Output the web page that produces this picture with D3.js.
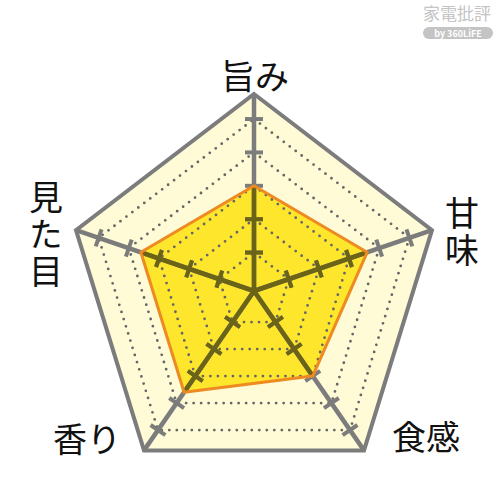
<!DOCTYPE html>
<meta charset="utf-8">
<style>
body { margin: 0; background: #fff; }
text { font-family: "Noto Sans CJK JP", "Noto Sans", sans-serif; }
</style>
<svg width="500" height="500"></svg>
<script src="https://cdn.jsdelivr.net/npm/d3@7"></script>
<script>

var axes = ["旨み", "甘味", "食感", "香り", "見た目"];
var values = [3, 3.6, 3, 3.6, 3.6];
var levels = [1, 2, 3, 4, 5];
var maxValue = 5.75;

var svg = d3.select("svg"),
    cx = 254, cy = 291, sx = 0.95;

var r = d3.scaleLinear().domain([0, maxValue]).range([5, 197]);
var angle = d3.scaleLinear().domain([0, axes.length]).range([0, 2 * Math.PI]);
var line = d3.line().curve(d3.curveLinearClosed);

function pt(i, v) {
  var a = angle(i);
  return [cx + sx * r(v) * Math.sin(a), cy - r(v) * Math.cos(a)];
}
function ring(v) {
  return line(axes.map(function(d, i) { return pt(i, v); }));
}
var dataPath = line(values.map(function(v, i) { return pt(i, v); }));

// clip for the olive part of the spokes
svg.append("clipPath").attr("id", "inside")
  .append("path").attr("d", dataPath);

// background frame
svg.append("path")
    .attr("d", ring(maxValue))
    .attr("fill", "#fefbd6");

svg.append("path")
    .attr("d", dataPath)
    .attr("fill", "#fde62c");

// dotted rings
svg.append("g").selectAll("path")
  .data(levels)
  .enter().append("path")
    .attr("d", ring)
    .attr("fill", "none")
    .attr("stroke", "#666")
    .attr("stroke-width", 2.8)
    .attr("stroke-linecap", "round")
    .attr("stroke-dasharray", "0,7.5");

function drawSpokes(g, color) {
  axes.forEach(function(d, i) {
    var end = pt(i, maxValue);
    g.append("line")
        .attr("x1", cx).attr("y1", cy)
        .attr("x2", end[0]).attr("y2", end[1])
        .attr("stroke", color)
        .attr("stroke-width", 4.5);
    var dx = end[0] - cx, dy = end[1] - cy,
        len = Math.sqrt(dx * dx + dy * dy),
        nx = -dy / len * 9, ny = dx / len * 9;
    g.selectAll(null)
      .data(levels)
      .enter().append("line")
        .attr("x1", function(l) { return pt(i, l)[0] - nx; })
        .attr("y1", function(l) { return pt(i, l)[1] - ny; })
        .attr("x2", function(l) { return pt(i, l)[0] + nx; })
        .attr("y2", function(l) { return pt(i, l)[1] + ny; })
        .attr("stroke", color)
        .attr("stroke-width", 4);
  });
}

drawSpokes(svg.append("g"), "#7c7c7c");
drawSpokes(svg.append("g").attr("clip-path", "url(#inside)"), "#6b6316");

svg.append("path")
    .attr("d", dataPath)
    .attr("fill", "none")
    .attr("stroke", "#ee8a22")
    .attr("stroke-width", 3)
    .attr("stroke-linejoin", "round");

svg.append("path")
    .attr("d", ring(maxValue))
    .attr("fill", "none")
    .attr("stroke", "#7c7c7c")
    .attr("stroke-width", 4)
    .attr("stroke-linejoin", "miter");

// axis labels; the side ones run top to bottom
var labelPos = [[255, 89], [462, 196], [426, 450], [87, 452], [46, 180]];
var vertical = [false, true, false, false, true];

axes.forEach(function(name, i) {
  var t = svg.append("text")
      .attr("x", labelPos[i][0])
      .attr("y", labelPos[i][1])
      .attr("font-size", 34)
      .attr("fill", "#111")
      .text(name);
  if (vertical[i]) {
    t.style("writing-mode", "vertical-rl")
     .style("text-orientation", "upright")
     .attr("letter-spacing", 3)
     .attr("text-anchor", "start");
  } else {
    t.attr("text-anchor", "middle");
  }
});

// watermark
svg.append("text")
    .attr("x", 457).attr("y", 20)
    .attr("text-anchor", "middle")
    .attr("font-size", 17)
    .attr("fill", "#c4c4c4")
    .text("家電批評");
svg.append("rect")
    .attr("x", 423).attr("y", 27)
    .attr("width", 70).attr("height", 12)
    .attr("rx", 6)
    .attr("fill", "#c4c4c4");
svg.append("text")
    .attr("x", 458).attr("y", 36.5)
    .attr("text-anchor", "middle")
    .attr("font-family", "DejaVu Sans")
    .attr("font-size", 9)
    .attr("font-weight", "bold")
    .attr("fill", "#fff")
    .text("by 360LiFE");

</script>
